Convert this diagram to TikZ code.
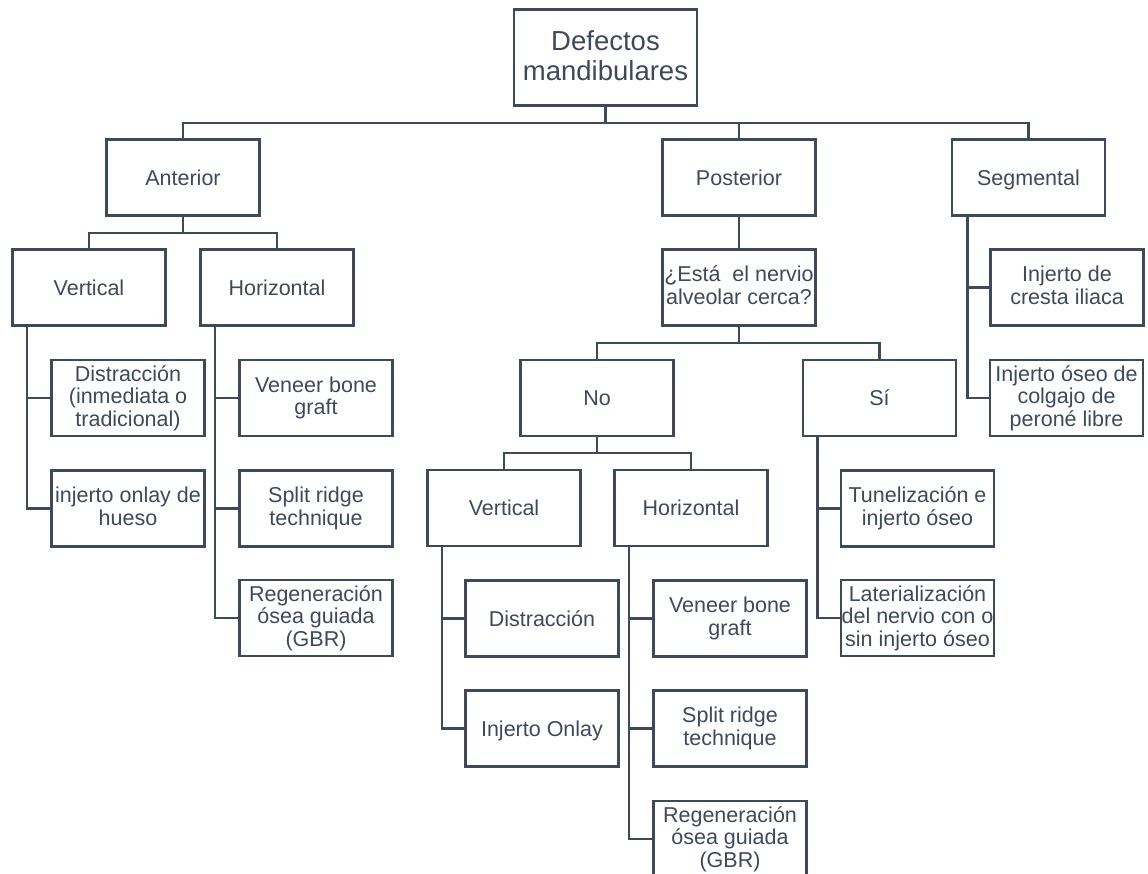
\documentclass[tikz,border=0pt]{standalone}
\usepackage{fontspec}
\setmainfont{Liberation Sans}
\definecolor{ink}{HTML}{3D4A5C}
\newcommand\boxtopstrut{\rule{0pt}{20pt}}
\newcommand\boxbotstrut{\rule[-4.6pt]{0pt}{4.6pt}}
\tikzset{
  box/.style={draw=ink, line width=2.8pt, minimum width=153pt, minimum height=76pt,
    inner sep=0pt, align=center, text=ink, font=\fontsize{21.5}{22.5}\selectfont,
    execute at begin node=\boxtopstrut, execute at end node=\boxbotstrut},
  rootbox/.style={box, minimum width=183pt, minimum height=96pt, font=\fontsize{27.5}{30}\selectfont},
  conn/.style={draw=ink, line width=2.8pt, line join=miter},
  side/.style={xshift=-62pt}
}
\begin{document}
\begin{tikzpicture}[x=1pt,y=-1pt]
\clip (0,0) rectangle (1148,874);
\fill[white] (0,0) rectangle (1148,874);
% nodes
\node[rootbox] (root) at (605.5,57.5) {Defectos\\mandibulares};
\node[box] (ant) at (183,177.5) {Anterior};
\node[box] (post) at (739,177.5) {Posterior};
\node[box] (seg) at (1028.5,177.5) {Segmental};
\node[box] (vA) at (89,287.5) {Vertical};
\node[box] (hA) at (277,287.5) {Horizontal};
\node[box] (q) at (739,287.5) {¿Está~ el nervio\\alveolar cerca?};
\node[box] (cresta) at (1067,287.5) {Injerto de\\cresta iliaca};
\node[box] (d1) at (128,398) {Distracción\\(inmediata o\\tradicional)};
\node[box] (vn1) at (316,398) {Veneer bone\\graft};
\node[box] (no) at (597,398) {No};
\node[box] (si) at (879.5,398) {Sí};
\node[box] (perone) at (1066.5,398) {Injerto óseo de\\colgajo de\\peroné libre};
\node[box] (o1) at (128,508.5) {injerto onlay de\\hueso};
\node[box] (sp1) at (316,508.5) {Split ridge\\technique};
\node[box] (vP) at (504,508) {Vertical};
\node[box] (hP) at (691,508) {Horizontal};
\node[box] (tun) at (917.5,508.5) {Tunelización e\\injerto óseo};
\node[box] (gbr1) at (316,618) {Regeneración\\ósea guiada\\(GBR)};
\node[box] (dP) at (542,618.5) {Distracción};
\node[box] (vnP) at (730,618.5) {Veneer bone\\graft};
\node[box] (lat) at (917.5,618) {Laterialización\\del nervio con o\\sin injerto óseo};
\node[box] (onP) at (542,728.5) {Injerto Onlay};
\node[box] (spP) at (730,728.5) {Split ridge\\technique};
\node[box] (gbrP) at (730,839) {Regeneración\\ósea guiada\\(GBR)};
% bus points
\coordinate (b1) at (605.5,123);
\coordinate (bA) at (183,233);
\coordinate (bQ) at (739,343);
\coordinate (bN) at (597,453);
% connectors
\draw[conn] (root) -- (b1);
\draw[conn] (ant.north) |- (b1) -| (seg.north);
\draw[conn] (b1) -| (post.north);
\draw[conn] (ant) -- (bA);
\draw[conn] (vA.north) |- (bA) -| (hA.north);
\draw[conn] (post) -- (q);
\draw[conn] (q) -- (bQ);
\draw[conn] (no.north) |- (bQ) -| (si.north);
\draw[conn] (no) -- (bN);
\draw[conn] (vP.north) |- (bN) -| (hP.north);
% side connectors
\draw[conn] ([side]vA.south) |- (d1.west);
\draw[conn] ([side]vA.south) |- (o1.west);
\draw[conn] ([side]hA.south) |- (vn1.west);
\draw[conn] ([side]hA.south) |- (sp1.west);
\draw[conn] ([side]hA.south) |- (gbr1.west);
\draw[conn] ([side]vP.south) |- (dP.west);
\draw[conn] ([side]vP.south) |- (onP.west);
\draw[conn] ([side]hP.south) |- (vnP.west);
\draw[conn] ([side]hP.south) |- (spP.west);
\draw[conn] ([side]hP.south) |- (gbrP.west);
\draw[conn] ([side]si.south) |- (tun.west);
\draw[conn] ([side]si.south) |- (lat.west);
\draw[conn] ([xshift=-61pt]seg.south) |- (cresta.west);
\draw[conn] ([xshift=-61pt]seg.south) |- (perone.west);
\end{tikzpicture}
\end{document}
